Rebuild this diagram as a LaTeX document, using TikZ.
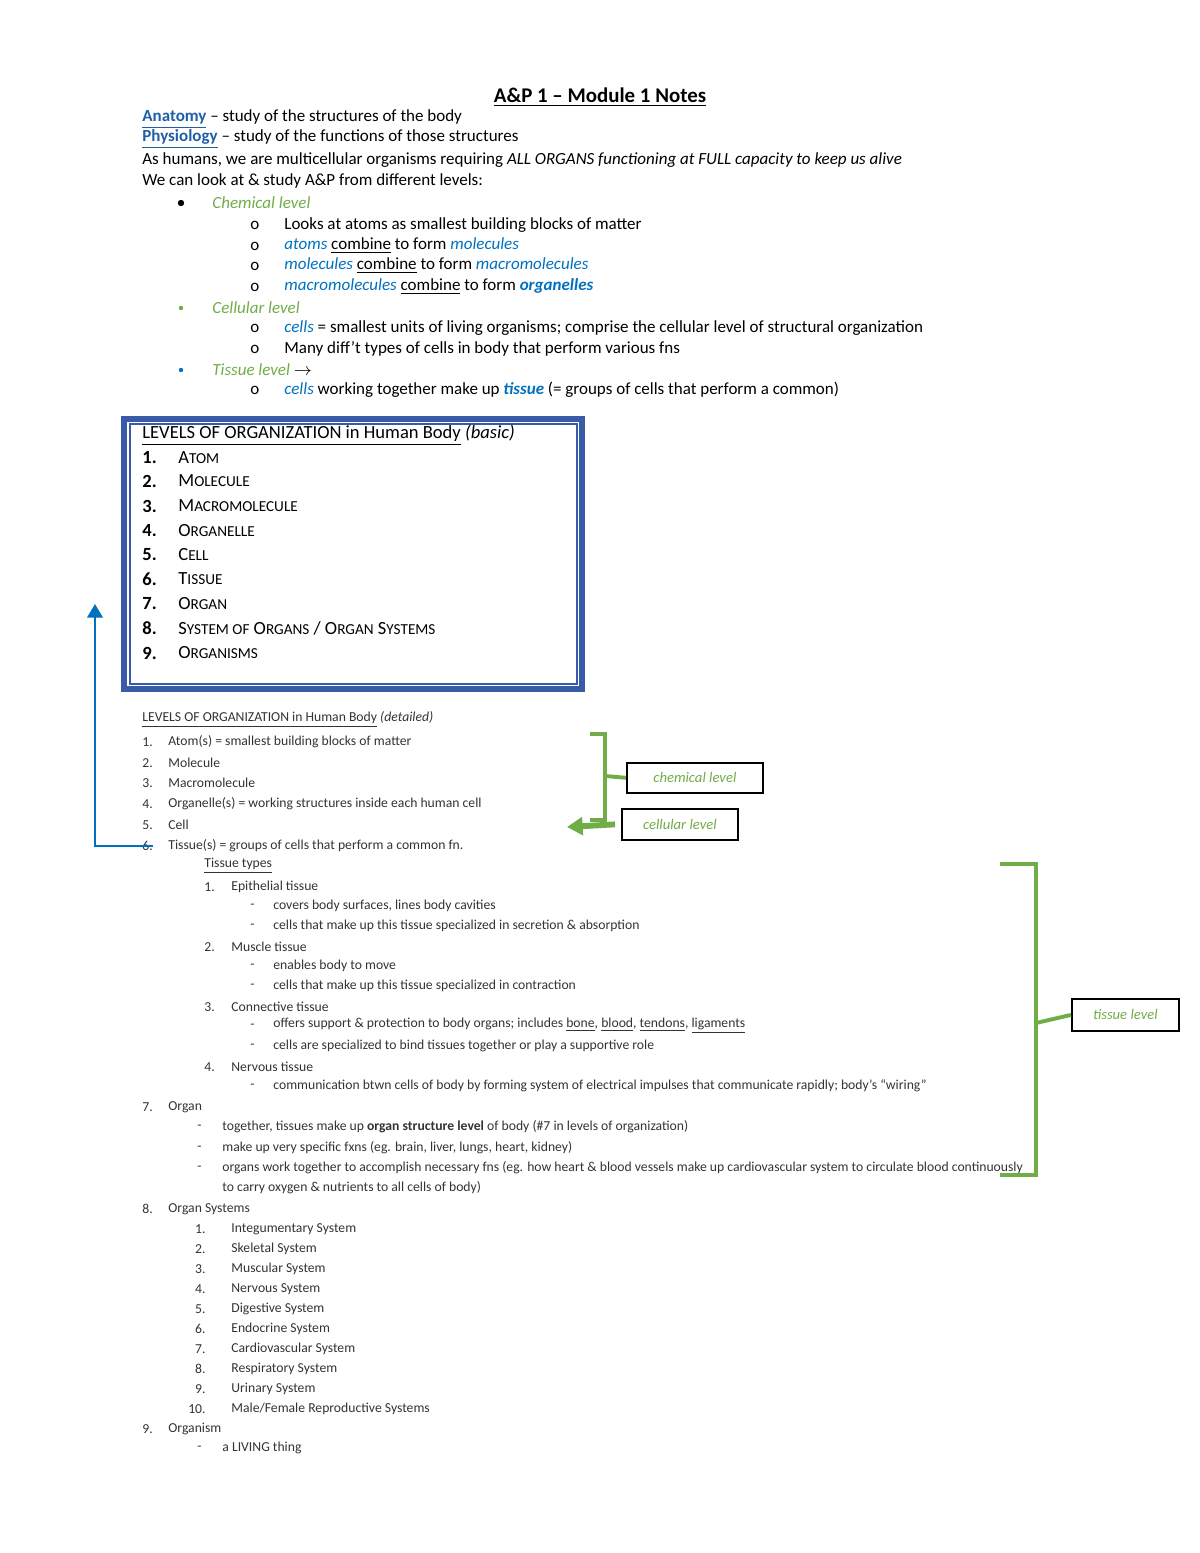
\documentclass[tikz,border=0pt]{standalone}
\usepackage{fontspec}
\setmainfont{Carlito}
\usetikzlibrary{arrows.meta}
\definecolor{lblue}{HTML}{0070C0}
\definecolor{dblue}{HTML}{1F5FA8}
\definecolor{gr}{HTML}{70AD47}
\definecolor{boxb}{HTML}{3A5BA8}
\definecolor{gtx}{HTML}{333333}
\newcommand{\fsc}[2]{#1{\fontsize{7.8pt}{9pt}\selectfont\MakeUppercase{#2}}}
\begin{document}
\begin{tikzpicture}[x=0.017992cm,y=-0.017992cm,
  t/.style={anchor=west,inner sep=0pt,font=\fontsize{8.7pt}{10pt}\selectfont},
  s/.style={anchor=west,inner sep=0pt,font=\fontsize{7pt}{8pt}\selectfont,text=gtx},
  bx/.style={anchor=west,inner sep=0pt,font=\fontsize{9.5pt}{11pt}\selectfont},
  lvl/.style={draw=black,thick,text=gr,font=\fontsize{7.5pt}{9pt}\selectfont\itshape,inner sep=0pt},
  gbr/.style={draw=gr,line width=2pt}]
\useasboundingbox (0,0) rectangle (1200,1553);
\node[anchor=center,inner sep=0pt,font=\fontsize{10.7pt}{12pt}\selectfont\bfseries] (title) at (600,97) {\underline{A\&P 1 – Module 1 Notes}};
\node[t] (an) at (142,119) {\textcolor{dblue}{\underline{\textbf{Anatomy}}} – study of the structures of the body};
\node[t] (ph) at (142,139) {\textcolor{dblue}{\underline{\textbf{Physiology}}} – study of the functions of those structures};
\node[t] (hu) at (142,160) {As humans, we are multicellular organisms requiring \textit{ALL ORGANS functioning at FULL capacity to keep us alive}};
\node[t] (we) at (142,181) {We can look at \& study A\&P from different levels:};
\fill (181,203) circle (3.2);
\node[t,text=gr] (ch) at (212,203) {\textit{Chemical level}};
\foreach \y in {225,246,266,287,328,349,390} \node[t] at (250,\y) {o};
\node[t] (c1) at (284,225) {Looks at atoms as smallest building blocks of matter};
\node[t] (c2) at (284,246) {\textcolor{lblue}{\textit{atoms}} \underline{combine} to form \textcolor{lblue}{\textit{molecules}}};
\node[t] (c3) at (284,266) {\textcolor{lblue}{\textit{molecules}} \underline{combine} to form \textcolor{lblue}{\textit{macromolecules}}};
\node[t] (c4) at (284,287) {\textcolor{lblue}{\textit{macromolecules}} \underline{combine} to form \textcolor{lblue}{\textbf{\textit{organelles}}}};
\fill[gr] (181,308) circle (2.2);
\node[t,text=gr] (ce) at (212,308) {\textit{Cellular level}};
\node[t] (e1) at (284,328) {\textcolor{lblue}{\textit{cells}} = smallest units of living organisms; comprise the cellular level of structural organization};
\node[t] (e2) at (284,349) {Many diff’t types of cells in body that perform various fns};
\fill[lblue] (181,370) circle (2.2);
\node[t,text=gr] (ti) at (212,370) {\textit{Tissue level} \textcolor{black}{$\rightarrow$}};
\node[t] (t1) at (284,390) {\textcolor{lblue}{\textit{cells}} working together make up \textcolor{lblue}{\textbf{\textit{tissue}}} (= groups of cells that perform a common)};
% box
\draw[boxb,line width=3.5pt] (124,419) rectangle (582,689);
\draw[boxb,line width=1pt] (130,424) rectangle (577,684);
\node[bx] (bt) at (142,435) {\underline{LEVELS OF ORGANIZATION in Human Body} \textit{(basic)}};
\foreach \n/\y/\w in {1/458/{\fsc{A}{tom}},2/481/{\fsc{M}{olecule}},3/506/{\fsc{M}{acromolecule}},4/531/{\fsc{O}{rganelle}},5/555/{\fsc{C}{ell}},6/579/{\fsc{T}{issue}},7/604/{\fsc{O}{rgan}},8/628/{\fsc{S}{ystem of} \fsc{O}{rgans} / \fsc{O}{rgan} \fsc{S}{ystems}},9/653/{\fsc{O}{rganisms}}}
  {\node[bx] (b\n) at (142,\y) {\textbf{\n.}};
   \node[bx] (bb\n) at (178,\y) {\w};}
% detailed
\node[s] (dt) at (142,720) {\underline{LEVELS OF ORGANIZATION in Human Body} \textit{(detailed)}};
\foreach \n/\y/\w in {1/742/{Atom(s) = smallest building blocks of matter},2/763/Molecule,3/783/Macromolecule,4/804/{Organelle(s) = working structures inside each human cell},5/825/Cell,6/846/{Tissue(s) = groups of cells that perform a common fn.},7/1107/Organ,8/1209/{Organ Systems},9/1429/Organism}
  {\node[s] (dn\n) at (142,\y) {\n.};
   \node[s] (d\n) at (168,\y) {\w};}
\node[s] (tt) at (204,866) {\underline{Tissue types}};
\foreach \n/\y/\w in {1/887/{Epithelial tissue},2/947/{Muscle tissue},3/1007/{Connective tissue},4/1067/{Nervous tissue}}
  {\node[s] (tn\n) at (204,\y) {\n.};
   \node[s] (tp\n) at (231,\y) {\w};}
\foreach \y/\w [count=\i] in {906/{covers body surfaces, lines body cavities},926/{cells that make up this tissue specialized in secretion \& absorption},966/{enables body to move},986/{cells that make up this tissue specialized in contraction},1026/{offers support \& protection to body organs; includes \underline{bone}, \underline{blood}, \underline{tendons}, \underline{ligaments}},1046/{cells are specialized to bind tissues together or play a supportive role},1086/{communication btwn cells of body by forming system of electrical impulses that communicate rapidly; body’s “wiring”}}
  {\node[s] (tdd\i) at (250,\y) {-};
   \node[s] (td\i) at (273,\y) {\w};}
\foreach \y/\w [count=\i] in {1127/{together, tissues make up \textbf{organ structure level} of body (\#7 in levels of organization)},1148/{make up very specific fxns (eg. brain, liver, lungs, heart, kidney)},1168/{organs work together to accomplish necessary fns (eg. how heart \& blood vessels make up cardiovascular system to circulate blood continuously},1448/{a LIVING thing}}
  {\node[s] (odd\i) at (197,\y) {-};
   \node[s] (od\i) at (222,\y) {\w};}
\node[s] (o4) at (222,1188) {to carry oxygen \& nutrients to all cells of body)};
\foreach \n/\y/\w in {1/1229/{Integumentary System},2/1249/{Skeletal System},3/1269/{Muscular System},4/1289/{Nervous System},5/1309/{Digestive System},6/1329/{Endocrine System},7/1349/{Cardiovascular System},8/1369/{Respiratory System},9/1389/{Urinary System},10/1409/{Male/Female Reproductive Systems}}
  {\node[s,anchor=east] (sn\n) at (206,\y) {\n.};
   \node[s] (sy\n) at (231,\y) {\w};}
% green brackets and level boxes
\node[lvl,anchor=north west,minimum width=2.45cm,minimum height=0.54cm] (chl) at (626,762) {chemical level};
\node[lvl,anchor=north west,minimum width=2.09cm,minimum height=0.56cm] (cel) at (621,808) {cellular level};
\node[lvl,anchor=north west,minimum width=1.93cm,minimum height=0.58cm] (til) at (1071,998) {tissue level};
\draw[gbr] (590,734) -- (605,734) -- (605,820) -- (590,820);
\draw[gbr] (605,776) -- (chl.west);
\draw[gr,line width=3pt,-{Triangle[length=8pt,width=9pt]}] (cel.west) ++(-6,0) -- (567,827);
\draw[gbr] (1000,864) -- (1036,864) -- (1036,1175) -- (1000,1175);
\draw[gbr] (1036,1023) -- (til.west);
% blue connector
\coordinate (bend) at (95,846);
\draw[lblue,line width=1pt,-{Triangle[length=7pt,width=8pt]}] (dn6.east) -- (bend) -- (95,604);
\end{tikzpicture}
\end{document}
